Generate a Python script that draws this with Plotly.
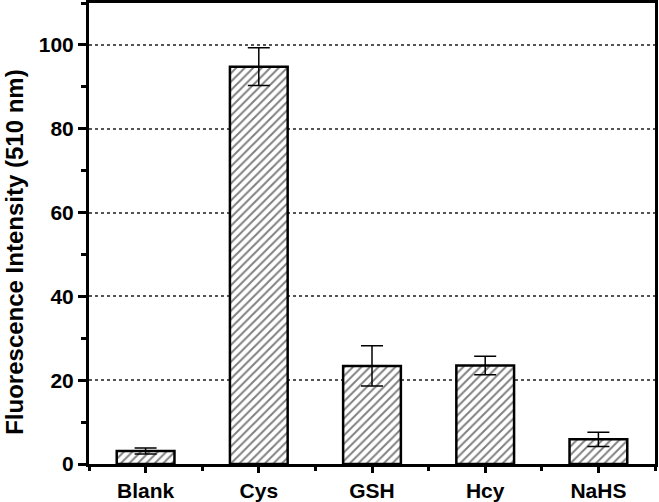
import plotly.graph_objects as go

# data
categories = ["Blank", "Cys", "GSH", "Hcy", "NaHS"]
intensity = [3.1, 94.8, 23.4, 23.5, 5.9]
errors = [0.7, 4.5, 4.8, 2.2, 1.7]
y_ticks = [0, 20, 40, 60, 80, 100]
y_title = "Fluorescence Intensity (510 nm)"

font_tick = dict(family="Liberation Sans, Arial, sans-serif", size=21, color="black", weight="bold")
font_title = dict(family="Liberation Sans, Arial, sans-serif", size=24, color="black", weight="bold")

fig = go.Figure()

fig.add_trace(go.Bar(
    x=list(range(len(categories))),
    y=intensity,
    width=0.51,
    marker=dict(
        color="white",
        line=dict(color="black", width=2.5),
        pattern=dict(shape="/", fgcolor="black", bgcolor="white", size=6, solidity=0.32),
    ),
    error_y=dict(type="data", array=errors, color="black", thickness=1.5, width=11),
    showlegend=False,
))

# y title as a rotated annotation so it can sit where the reference has it
fig.add_annotation(
    text=y_title, textangle=-90,
    xref="paper", yref="paper", x=-0.131, y=0.46,
    xanchor="center", yanchor="middle", showarrow=False,
    font=font_title,
)

fig.update_layout(
    width=659, height=502,
    margin=dict(l=89, r=4, t=3, b=38),
    plot_bgcolor="white",
    paper_bgcolor="white",
    font=font_tick,
)

fig.update_xaxes(
    range=[-0.5, 4.5],
    tickmode="array",
    tickvals=list(range(len(categories))),
    ticktext=categories,
    ticks="outside", ticklen=6, tickwidth=2.5, tickcolor="black",
    minor=dict(ticks="outside", ticklen=4, tickwidth=2.5, tickcolor="black",
               tickmode="linear", tick0=0.5, dtick=1),
    showline=True, linewidth=3, linecolor="black", mirror=True,
    showgrid=False, zeroline=False,
    tickfont=font_tick,
    automargin=False,
)

fig.update_yaxes(
    range=[0, 110],
    tickmode="array",
    tickvals=y_ticks,
    ticks="outside", ticklen=8, tickwidth=2.5, tickcolor="black",
    minor=dict(ticks="outside", ticklen=5, tickwidth=2.5, tickcolor="black",
               tickmode="linear", tick0=10, dtick=20, showgrid=False),
    showline=True, linewidth=3, linecolor="black", mirror=True,
    showgrid=True, gridcolor="#555555", gridwidth=1.5, griddash="dot",
    zeroline=False,
    tickfont=font_tick,
    automargin=False,
)

fig.write_html("out.html", config={"displayModeBar": False},
               post_script="document.body.style.margin='0';")
